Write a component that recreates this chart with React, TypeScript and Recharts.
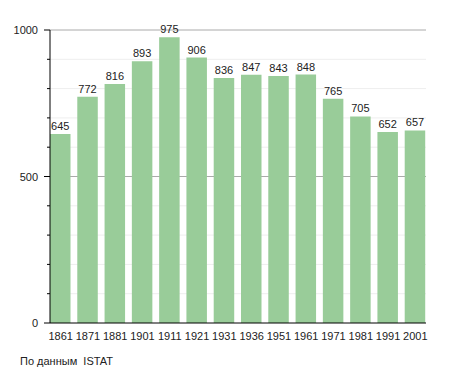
import { Bar, BarChart, CartesianGrid, LabelList, XAxis, YAxis } from "recharts"

const years = ["1861", "1871", "1881", "1901", "1911", "1921", "1931", "1936", "1951", "1961", "1971", "1981", "1991", "2001"]
const population = [645, 772, 816, 893, 975, 906, 836, 847, 843, 848, 765, 705, 652, 657]
const yTicks = [0, 100, 200, 300, 400, 500, 600, 700, 800, 900, 1000]
const labeledTicks = [0, 500, 1000]

const data = years.map((year, i) => ({ year, value: population[i] }))

const font = "'Liberation Sans', Arial, sans-serif"

function YTick(props: any) {
  const { x, y, payload } = props
  const major = labeledTicks.includes(payload.value)
  const axisX = x + 12
  return (
    <g>
      <line x1={axisX - (major ? 6 : 3)} x2={axisX} y1={y} y2={y} stroke="#000" />
      {major && (
        <text x={x} y={y} dy={4} textAnchor="end" fontSize={11} fill="#222" fontFamily={font}>
          {payload.value}
        </text>
      )}
    </g>
  )
}

function GridLine(props: any) {
  const { x1, x2, y1, y2, index } = props
  const v = yTicks[index]
  if (v === 0) return <g />
  const major = v % 500 === 0
  return <line x1={x1} x2={x2} y1={y1} y2={y2} stroke={major ? "#aaaaaa" : "#eeeeee"} strokeWidth={1} />
}

export default function App() {
  return (
    <div style={{ position: "absolute", left: 0, top: 0, width: 455, height: 373, background: "#fff", fontFamily: font }}>
      <BarChart width={455} height={373} data={data} margin={{ top: 30, right: 29, left: 0, bottom: 30 }}>
        <CartesianGrid vertical={false} horizontal={GridLine as any} />
        <XAxis
          dataKey="year"
          tickLine={false}
          axisLine={{ stroke: "#000" }}
          padding={{ left: -3, right: -3 }}
          tick={{ fontSize: 11, fill: "#222", fontFamily: font }}
          tickMargin={3}
          interval={0}
          height={20}
        />
        <YAxis
          width={50}
          domain={[0, 1000]}
          ticks={yTicks}
          interval={0}
          tickLine={false}
          tickSize={0}
          axisLine={{ stroke: "#000" }}
          tickMargin={12}
          tick={<YTick />}
        />
        <Bar dataKey="value" fill="#99cc99" barSize={20.5} isAnimationActive={false}>
          <LabelList dataKey="value" position="top" offset={4} fontSize={11} fill="#222" fontFamily={font} />
        </Bar>
      </BarChart>
      <div style={{ position: "absolute", left: 20, top: 355, fontSize: 11, color: "#222", whiteSpace: "pre" }}>
        По данным  ISTAT
      </div>
    </div>
  )
}
